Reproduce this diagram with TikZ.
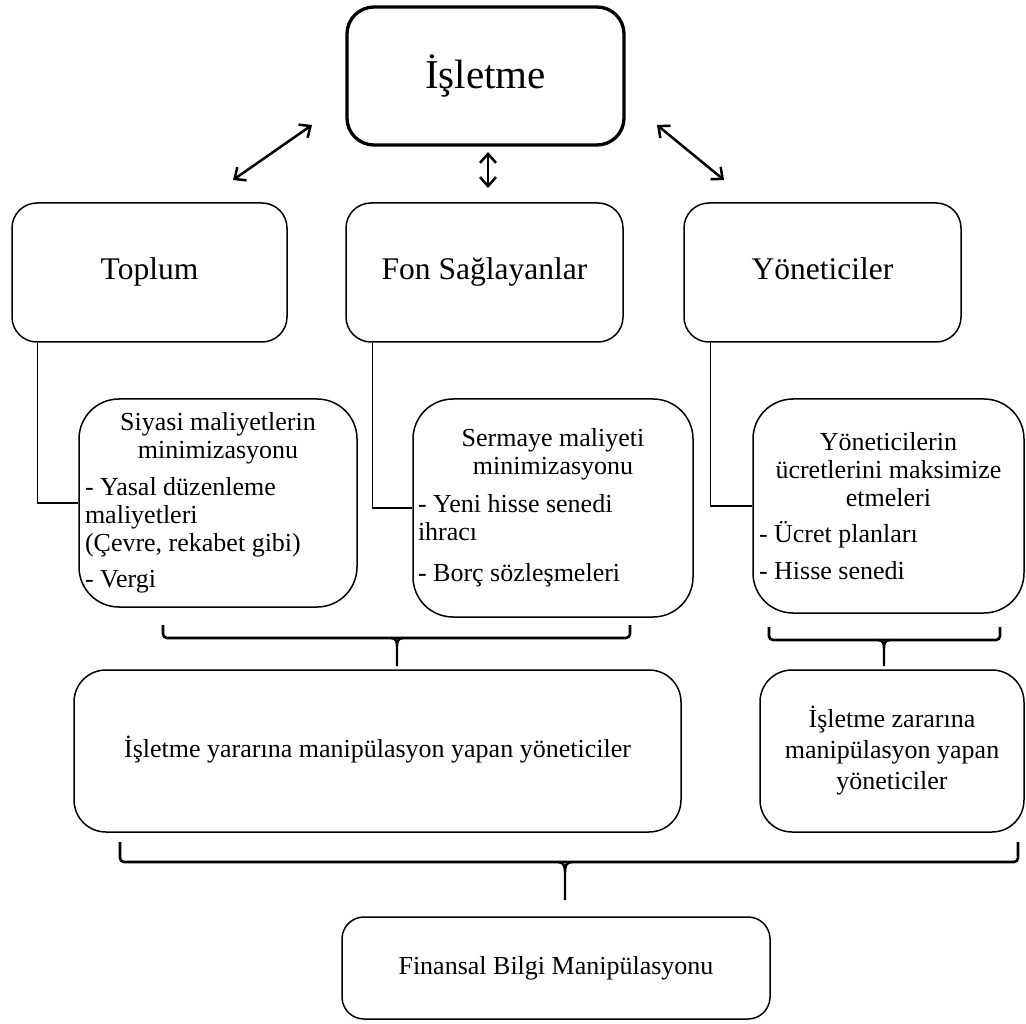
\documentclass[tikz,border=0pt]{standalone}
\usepackage{fontspec}
\setmainfont{Liberation Serif}
\usetikzlibrary{arrows.meta}
\begin{document}
\begin{tikzpicture}[x=1pt,y=-1pt,
  panel/.style={draw=black, line width=1.5pt, rounded corners=#1, inner sep=0pt, align=center},
  conn/.style={draw=black, line width=1.5pt},
  brace/.style={draw=black, line width=2.6pt, rounded corners=4pt},
  spike/.style={draw=black, line width=2.4pt},
  dbl/.style={{Straight Barb[length=9pt,width=16pt]}-{Straight Barb[length=9pt,width=16pt]}, line width=2.5pt},
  big/.style={font=\fontsize{31.5}{36}\selectfont, text height=22pt, text depth=7pt},
  small/.style={font=\fontsize{26}{28}\selectfont},
  oneline/.style={text height=18pt, text depth=6pt}
]
\useasboundingbox (0,0) rectangle (1026,1024);

% top box
\node[panel=27pt, line width=3.3pt, minimum width=277pt, minimum height=138pt,
      font=\fontsize{41}{48}\selectfont] (isletme) at (485.5,76) {İşletme};

% second row
\node[panel=25pt, big, minimum width=275pt, minimum height=139pt] (toplum) at (149.5,272.5) {Toplum};
\node[panel=25pt, big, minimum width=277pt, minimum height=139pt] (fon) at (484.5,272.5) {Fon Sağlayanlar};
\node[panel=25pt, big, minimum width=277pt, minimum height=139pt] (yon) at (822.5,272.5) {Yöneticiler};

% arrows from the top box
\coordinate (a1s) at (312,125); \coordinate (a1e) at (233,180);
\coordinate (a2s) at (488,152); \coordinate (a2e) at (488,188);
\coordinate (a3s) at (657,125); \coordinate (a3e) at (724,180);
\draw[dbl] (a1s) -- (a1e);
\draw[dbl] (a2s) -- (a2e);
\draw[dbl] (a3s) -- (a3e);

% third row
\node[panel=40pt, small, align=none, inner xsep=6pt, text width=266pt, minimum width=278pt, minimum height=208pt] (siyasi) at (218,503)
{{\centering Siyasi maliyetlerin\\minimizasyonu\par}\vspace{9pt}
 \raggedright - Yasal düzenleme\\maliyetleri\\(Çevre, rekabet gibi)\par\vspace{8pt}
 - Vergi\par};
\node[panel=40pt, small, align=none, inner xsep=5pt, text width=270pt, minimum width=280pt, minimum height=218pt] (sermaye) at (553,508)
{{\centering Sermaye maliyeti\\minimizasyonu\par}\vspace{10pt}
 \raggedright - Yeni hisse senedi\\ihracı\par\vspace{13pt}
 - Borç sözleşmeleri\par};
\node[panel=40pt, small, align=none, inner xsep=6pt, text width=259pt, minimum width=271pt, minimum height=214pt] (ucret) at (888.5,506)
{{\centering Yöneticilerin\\ücretlerini maksimize\\etmeleri\par}\vspace{8pt}
 \raggedright - Ücret planları\par\vspace{9pt}
 - Hisse senedi\par};

% elbow connectors
\draw[conn] ([xshift=26pt]toplum.south west) |- (siyasi.west);
\draw[conn] ([xshift=27pt]fon.south west) |- (sermaye.west);
\draw[conn] ([xshift=27pt]yon.south west) |- (ucret.west);

% braces below the third row
\coordinate (b1l) at (163,625); \coordinate (b1r) at (630,625);
\coordinate (b1m) at (397,638); \coordinate (b1t) at (397,666);
\draw[brace] (b1l) -- (b1l |- b1m) -- (b1r |- b1m) -- (b1r);
\draw[spike] (b1m) ++(-6,0) .. controls +(5,0) and +(0,-4) .. ++(6,8) -- (b1t);
\draw[spike] (b1m) ++(6,0) .. controls +(-5,0) and +(0,-4) .. ++(-6,8);

\coordinate (b2l) at (769,627); \coordinate (b2r) at (1000,627);
\coordinate (b2m) at (884,640); \coordinate (b2t) at (884,666);
\draw[brace] (b2l) -- (b2l |- b2m) -- (b2r |- b2m) -- (b2r);
\draw[spike] (b2m) ++(-6,0) .. controls +(5,0) and +(0,-4) .. ++(6,8) -- (b2t);
\draw[spike] (b2m) ++(6,0) .. controls +(-5,0) and +(0,-4) .. ++(-6,8);

% fourth row
\node[panel=32pt, small, oneline, minimum width=607pt, minimum height=162pt] (yarar) at (377.5,751)
{İşletme yararına manipülasyon yapan yöneticiler};
\node[panel=32pt, font=\fontsize{26}{31}\selectfont, minimum width=264pt, minimum height=162pt] (zarar) at (892,751)
{İşletme zararına\\manipülasyon yapan\\yöneticiler};

% bottom brace
\coordinate (b3l) at (120,842); \coordinate (b3r) at (1018,842);
\coordinate (b3m) at (565,862); \coordinate (b3t) at (565,900);
\draw[brace] (b3l) -- (b3l |- b3m) -- (b3r |- b3m) -- (b3r);
\draw[spike] (b3m) ++(-7,0) .. controls +(6,0) and +(0,-5) .. ++(7,10) -- (b3t);
\draw[spike] (b3m) ++(7,0) .. controls +(-6,0) and +(0,-5) .. ++(-7,10);

% result box
\node[panel=22pt, small, oneline, minimum width=428pt, minimum height=102pt] (finans) at (556,968)
{Finansal Bilgi Manipülasyonu};
\end{tikzpicture}
\end{document}
